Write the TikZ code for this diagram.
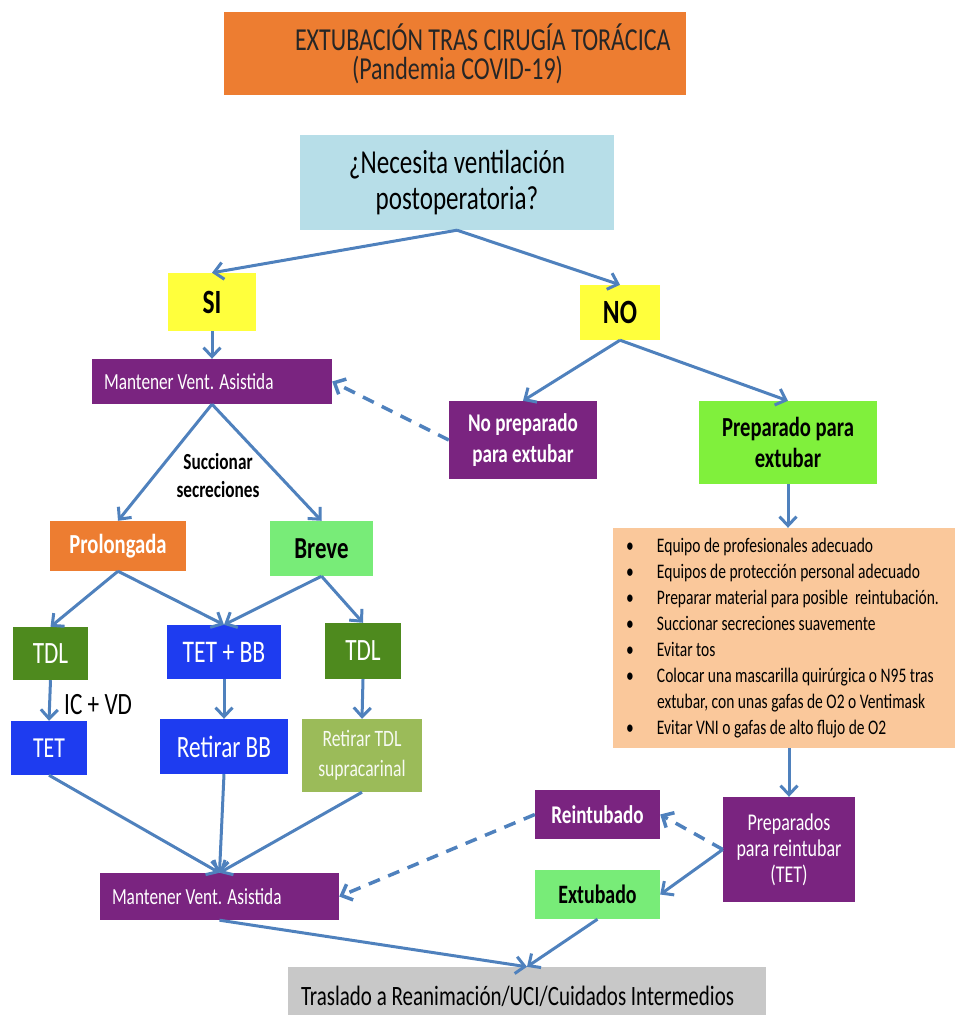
\documentclass[tikz,border=0pt]{standalone}
\usepackage{fontspec}
\setmainfont{Carlito}[FakeStretch=0.75]
\usetikzlibrary{arrows.meta}

\definecolor{naranja}{RGB}{237,125,49}
\definecolor{celeste}{RGB}{183,222,232}
\definecolor{amarillo}{RGB}{255,255,60}
\definecolor{morado}{RGB}{122,36,128}
\definecolor{verdevivo}{RGB}{128,240,60}
\definecolor{verdeclaro}{RGB}{120,236,120}
\definecolor{verdeosc}{RGB}{78,138,30}
\definecolor{azul}{RGB}{30,60,240}
\definecolor{oliva}{RGB}{155,187,89}
\definecolor{melocoton}{RGB}{250,200,155}
\definecolor{gris}{RGB}{200,200,200}
\definecolor{linea}{RGB}{79,129,189}

\newcommand{\letra}[2]{\fontsize{#1}{#2}\selectfont}
\newcommand{\fila}[1]{\makebox[336pt][l]{\makebox[41pt][l]{\hspace*{10pt}\textbullet}#1}}

\begin{document}
\begin{tikzpicture}[x=1pt,y=-1pt,
  caja/.style={rectangle,inner sep=0pt,align=center},
  flecha/.style={line width=3pt,draw=linea,line join=round,-{Straight Barb[length=9pt,width=17pt]}},
  discont/.style={flecha,line width=3.5pt,dash pattern=on 12pt off 9pt}]

\useasboundingbox (0,0) rectangle (955,1015);
\clip (0,0) rectangle (955,1015);

% cabecera
\node[caja, fill=naranja, minimum width=462pt, minimum height=83pt, align=left,
  text=black!85, font=\letra{32}{29}] (titulo) at (455,53.5)
  {\makebox[440pt][l]{\hspace*{60pt}EXTUBACIÓN TRAS CIRUGÍA TORÁCICA}\\
   \makebox[440pt][l]{\hspace*{117pt}(Pandemia COVID-19)}};

\node[caja, fill=celeste, minimum width=314pt, minimum height=95pt, font=\letra{33.5}{36}]
  (pregunta) at (457,182.5) {¿Necesita ventilación\\postoperatoria?};

\node[caja, fill=amarillo, minimum width=88pt, minimum height=58pt, font=\letra{34}{34}\bfseries] (si) at (212,302) {SI};
\node[caja, fill=amarillo, minimum width=80pt, minimum height=55pt, font=\letra{34}{34}\bfseries] (no) at (620,312.5) {NO};

% rama SI
\node[caja, fill=morado, text=white, minimum width=240pt, minimum height=45pt, font=\letra{23}{26}]
  (mant1) at (212,381.5) {\makebox[216pt][l]{Mantener Vent. Asistida}};

\node[font=\letra{23}{28}\bfseries, align=center] (succ) at (218,476) {Succionar\\secreciones};

\node[caja, fill=naranja, text=white, minimum width=136pt, minimum height=50pt, font=\letra{27.5}{30}\bfseries] (prolong) at (118,546) {Prolongada};
\node[caja, fill=verdeclaro, minimum width=103pt, minimum height=55pt, font=\letra{30.5}{30}\bfseries] (breve) at (321.5,548.5) {Breve};

\node[caja, fill=verdeosc, text=white, minimum width=75pt, minimum height=53pt, font=\letra{31}{30}] (tdlA) at (50.5,653.5) {TDL};
\node[caja, fill=azul, text=white, minimum width=114pt, minimum height=54pt, font=\letra{31.5}{30}] (tetbb) at (224,652) {TET + BB};
\node[caja, fill=verdeosc, text=white, minimum width=76pt, minimum height=56pt, font=\letra{31}{30}] (tdlB) at (363,651) {TDL};

\node[caja, fill=azul, text=white, minimum width=76pt, minimum height=54pt, font=\letra{29}{30}] (tet) at (49,748) {TET};
\node[anchor=west, inner sep=0pt, font=\letra{31}{30}] (icvd) at (64,705) {IC + VD};
\node[caja, fill=azul, text=white, minimum width=128pt, minimum height=55pt, font=\letra{31}{30}] (retbb) at (224,746.5) {Retirar BB};
\node[caja, fill=oliva, text=white!92!oliva, minimum width=120pt, minimum height=73pt, font=\letra{23.5}{30}] (rettdl) at (362,755.5) {Retirar TDL\\supracarinal};

\node[caja, fill=morado, text=white, minimum width=239pt, minimum height=47pt, font=\letra{23}{26}]
  (mant2) at (219.5,896.5) {\makebox[215pt][l]{Mantener Vent. Asistida}};

% rama NO
\node[caja, fill=morado, text=white, minimum width=148pt, minimum height=78pt, font=\letra{25.5}{31}\bfseries] (noprep) at (523,440) {No preparado\\para extubar};
\node[caja, fill=verdevivo, minimum width=178pt, minimum height=83pt, font=\letra{27.5}{31}\bfseries] (prep) at (788,442.5) {Preparado para\\extubar};

\node[caja, fill=melocoton, minimum width=342pt, minimum height=220pt, align=left,
  font=\letra{20.7}{26}] (lista) at (784,638)
  {\fila{Equipo de profesionales adecuado}\\
   \fila{Equipos de protección personal adecuado}\\
   \fila{Preparar material para posible\ \ reintubación.}\\
   \fila{Succionar secreciones suavemente}\\
   \fila{Evitar tos}\\
   \fila{Colocar una mascarilla quirúrgica o N95 tras}\\
   \makebox[336pt][l]{\hspace*{41pt}extubar, con unas gafas de O2 o Ventimask}\\
   \fila{Evitar VNI o gafas de alto flujo de O2}};

\node[caja, fill=morado, text=white, minimum width=132pt, minimum height=105pt, font=\letra{24}{26}] (prepre) at (789,849.5) {Preparados\\para reintubar\\(TET)};
\node[caja, fill=morado, text=white, minimum width=125pt, minimum height=49pt, font=\letra{25.5}{30}\bfseries] (reint) at (597.5,814.5) {Reintubado};
\node[caja, fill=verdeclaro, minimum width=125pt, minimum height=49pt, font=\letra{26.5}{30}\bfseries] (extub) at (597.5,894.5) {Extubado};

\node[caja, fill=gris, minimum width=478pt, minimum height=58pt, font=\letra{28}{30}]
  (trasl) at (527,996) {\makebox[452pt][l]{Traslado a Reanimación/UCI/Cuidados Intermedios}};

% flechas
\draw[flecha] (pregunta.south) -- (si.north);
\draw[flecha] (pregunta.south) -- (no.north);
\draw[flecha] (si.south) -- (mant1.north);
\draw[flecha] (no.south) -- (noprep.north);
\draw[flecha] (no.south) -- (prep.north);
\draw[discont] (noprep.west) -- (mant1.east);

\draw[flecha] (mant1.south) -- (prolong.north);
\draw[flecha] (mant1.south) -- (breve.north);
\draw[flecha] (prolong.south) -- (tdlA.north);
\draw[flecha] (prolong.south) -- (tetbb.north);
\draw[flecha] (breve.south) -- (tetbb.north);
\draw[flecha] (breve.south) -- (tdlB.north);
\draw[flecha] (tdlA.south) -- (tet.north);
\draw[flecha] (tetbb.south) -- (retbb.north);
\draw[flecha] (tdlB.south) -- (rettdl.north);
\draw[flecha] (tet.south) -- (mant2.north);
\draw[flecha] (retbb.south) -- (mant2.north);
\draw[flecha] (rettdl.south) -- (mant2.north);

\draw[flecha] (prep.south) -- (prep.south |- lista.north);
\draw[flecha] (lista.south -| prepre.north) -- (prepre.north);
\draw[discont] (prepre.west) -- (reint.east);
\draw[flecha] (prepre.west) -- (extub.east);
\draw[discont] (reint.west) -- (mant2.east);
\draw[flecha] (mant2.south) -- (trasl.north);
\draw[flecha] (extub.south) -- (trasl.north);

\end{tikzpicture}
\end{document}
